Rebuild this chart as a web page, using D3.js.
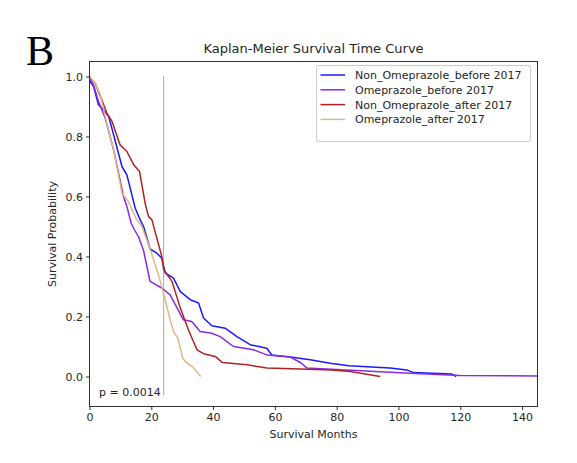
<!DOCTYPE html>
<html>
<head>
<meta charset="utf-8">
<script src="https://cdn.jsdelivr.net/npm/d3@7"></script>
<style>
  body { margin: 0; background: #fff; }
</style>
</head>
<body>
<div class="chart"></div>
<script>
// survival curves, [month, probability]
var nonOmeBefore = [[0,1.0],[0.2,0.983],[1.3,0.967],[2.9,0.906],[4.5,0.889],[6.2,0.867],[7.8,0.806],[10.5,0.7],[12.1,0.672],
  [14.8,0.561],[16.4,0.522],[17.5,0.5],[19.6,0.425],[21.8,0.411],[23.4,0.394],[24.5,0.345],[27.2,0.328],[29.4,0.283],[32.6,0.256],
  [35.3,0.245],[36.9,0.195],[39.6,0.169],[43.9,0.161],[47.7,0.133],[52,0.106],[57.4,0.094],[59,0.072],[65,0.065],[71.4,0.056],
  [77.9,0.044],[83.9,0.036],[97.3,0.028],[102.7,0.022],[104.9,0.013],[117.3,0.008],[118.7,0.0]];
var omeBefore = [[0,1.0],[0.2,0.99],[1.3,0.972],[2.9,0.917],[5.1,0.861],[7.8,0.756],[11,0.6],[12.1,0.567],[13.5,0.51],[14.5,0.49],
  [15.9,0.465],[17.5,0.42],[18.2,0.385],[19.6,0.317],[23.4,0.295],[26.1,0.272],[30.4,0.189],[33.1,0.183],[35.8,0.15],[39.6,0.144],
  [42.3,0.133],[46.6,0.1],[53.1,0.089],[57.4,0.072],[65,0.065],[68.5,0.045],[70.4,0.028],[103.8,0.011],[120,0.003],[145,0.002]];
var nonOmeAfter = [[0,1.0],[0.2,0.995],[1.8,0.978],[4,0.922],[5.6,0.878],[7.3,0.85],[9.9,0.772],[12.1,0.75],[14.3,0.706],[16.2,0.683],
  [18,0.578],[19.1,0.533],[20.2,0.522],[23.4,0.4],[24,0.356],[26.7,0.317],[29.4,0.228],[32,0.156],[34.8,0.089],[36.9,0.076],
  [40.7,0.067],[42.9,0.047],[51,0.039],[57.4,0.028],[68.2,0.025],[78,0.022],[84.4,0.017],[94.1,0.0]];
var omeAfter = [[0,1.0],[1.8,0.978],[3.5,0.939],[5.6,0.845],[7.8,0.756],[10.5,0.611],[12.6,0.583],[15.3,0.522],[17,0.5],[19.6,0.425],
  [21.8,0.356],[23.4,0.3],[24.5,0.256],[26.1,0.189],[27.2,0.15],[28.6,0.128],[30.2,0.06],[31.5,0.045],[33.4,0.033],[36,0.0]];

var seriesNames = ["Non_Omeprazole_before 2017", "Omeprazole_before 2017", "Non_Omeprazole_after 2017", "Omeprazole_after 2017"];
var seriesColors = ["#1a1aff", "#8a2be2", "#b22222", "#deb887"];
var seriesData = [nonOmeBefore, omeBefore, nonOmeAfter, omeAfter];
var xTicks = [0, 20, 40, 60, 80, 100, 120, 140];
var yTicks = [0.0, 0.2, 0.4, 0.6, 0.8, 1.0];
var medianLine = 24;
var pValue = "p = 0.0014";

var svg = d3.select(".chart").append("svg").attr("width", 577).attr("height", 463)
    .style("font-family", "DejaVu Sans, sans-serif");
svg.append("rect").attr("width", 577).attr("height", 463).attr("fill", "#fff");

var plotL = 89.5, plotR = 537.5, plotT = 61.5, plotB = 406.5;
var x = d3.scaleLinear().domain([0, 145]).range([plotL, plotR]);
var y = d3.scaleLinear().domain([-0.1, 1.05]).range([plotB, plotT]);

// axes
var xAxis = svg.append("g").attr("transform", "translate(0," + plotB + ")")
    .call(d3.axisBottom(x).tickValues(xTicks).tickSize(3.5).tickPadding(3).tickFormat(d3.format("d")));
var yAxis = svg.append("g").attr("transform", "translate(" + plotL + ",0)")
    .call(d3.axisLeft(y).tickValues(yTicks).tickSize(3.5).tickPadding(3).tickFormat(d3.format(".1f")));
[xAxis, yAxis].forEach(function(a) {
    a.select(".domain").remove();
    a.selectAll("line").attr("stroke", "#333");
    a.selectAll("text").attr("font-size", 11).attr("font-family", "DejaVu Sans").attr("fill", "#262626");
});

// median line + p value
svg.append("line").attr("x1", x(medianLine)).attr("x2", x(medianLine))
    .attr("y1", y(1.0)).attr("y2", y(-0.062))
    .attr("stroke", "#555").attr("stroke-width", 1).attr("stroke-dasharray", "1,1");
svg.append("text").attr("x", 99).attr("y", 396).attr("font-size", 11).attr("fill", "#262626").text(pValue);

// curves
var line = d3.line().x(function(d) { return x(d[0]); }).y(function(d) { return y(d[1]); });
seriesData.forEach(function(s, i) {
    svg.append("path").datum(s).attr("d", line)
        .attr("fill", "none").attr("stroke", seriesColors[i]).attr("stroke-width", 1.5)
        .attr("stroke-linejoin", "round");
});

// frame
svg.append("rect").attr("x", plotL).attr("y", plotT).attr("width", plotR - plotL).attr("height", plotB - plotT)
    .attr("fill", "none").attr("stroke", "#333").attr("stroke-width", 1);

// legend
var legend = svg.append("g");
legend.append("rect").attr("x", 316.5).attr("y", 65.5).attr("width", 214).attr("height", 76).attr("rx", 2)
    .attr("fill", "#fff").attr("fill-opacity", 0.8).attr("stroke", "#ccc");
seriesNames.forEach(function(n, i) {
    var ly = 75 + i * 14.8;
    legend.append("line").attr("x1", 320.5).attr("x2", 345).attr("y1", ly).attr("y2", ly)
        .attr("stroke", seriesColors[i]).attr("stroke-width", 1.5);
    legend.append("text").attr("x", 355).attr("y", ly + 4).attr("font-size", 11).attr("fill", "#262626").text(n);
});

// titles
svg.append("text").attr("x", (plotL + plotR) / 2).attr("y", 53).attr("text-anchor", "middle")
    .attr("font-size", 13).attr("fill", "#262626").text("Kaplan-Meier Survival Time Curve");
svg.append("text").attr("x", (plotL + plotR) / 2).attr("y", 438).attr("text-anchor", "middle")
    .attr("font-size", 11).attr("fill", "#262626").text("Survival Months");
svg.append("text").attr("transform", "translate(56," + (plotT + plotB) / 2 + ") rotate(-90)")
    .attr("text-anchor", "middle").attr("font-size", 11).attr("fill", "#262626").text("Survival Probability");
svg.append("text").attr("x", 26).attr("y", 65).attr("font-family", "Liberation Serif")
    .attr("font-size", 42).attr("fill", "#000").text("B");
</script>
</body>
</html>
